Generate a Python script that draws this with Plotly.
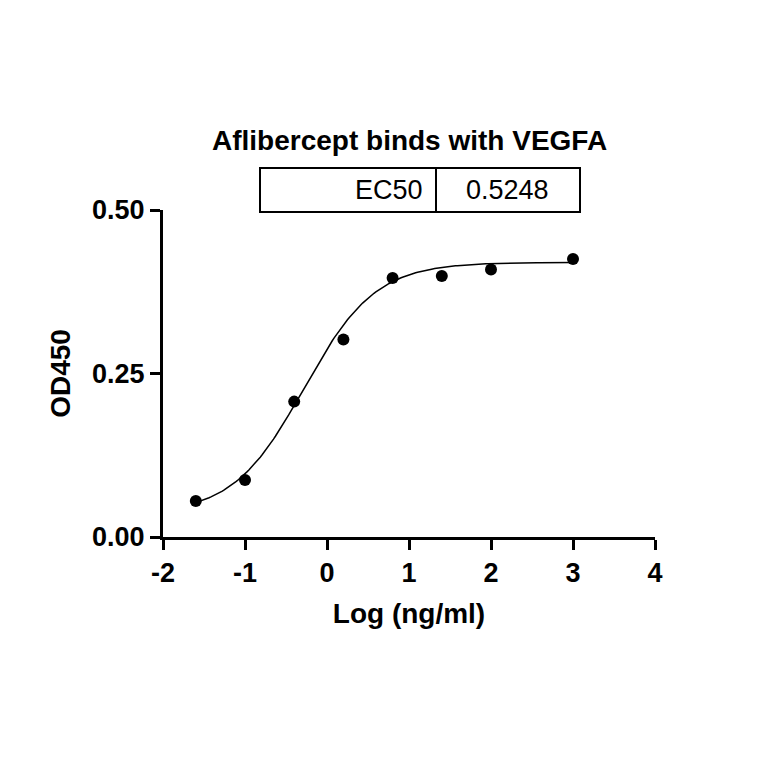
import numpy as np
import plotly.graph_objects as go

log_conc = [-1.6, -1.0, -0.4, 0.2, 0.8, 1.4, 2.0, 3.0]
od450 = [0.055, 0.087, 0.207, 0.302, 0.396, 0.399, 0.409, 0.425]
x_ticks = [-2, -1, 0, 1, 2, 3, 4]
x_ticklabels = ["-2", "-1", "0", "1", "2", "3", "4"]
y_ticks = [0, 0.25, 0.5]
y_ticklabels = ["0.00", "0.25", "0.50"]
# 4PL fit parameters
bottom, top, logec50, hill = 0.035, 0.42, np.log10(0.5248), 1.0
xs = np.linspace(-1.6, 3.0, 200)
ys = bottom + (top - bottom) / (1 + 10 ** ((logec50 - xs) * hill))

fig = go.Figure()
fig.add_trace(go.Scatter(x=xs, y=ys, mode="lines", line=dict(color="black", width=1.5), cliponaxis=False))
fig.add_trace(go.Scatter(x=log_conc, y=od450, mode="markers", marker=dict(color="black", size=12), cliponaxis=False))

W, H = 492, 327
def px(x): return (x - 163) / W
def py(y): return (537 - y) / H
fig.add_shape(type="rect", xref="paper", yref="paper", x0=px(260), x1=px(580), y0=py(212), y1=py(168), line=dict(color="black", width=2))
fig.add_shape(type="line", xref="paper", yref="paper", x0=px(436), x1=px(436), y0=py(212), y1=py(168), line=dict(color="black", width=2))
fig.add_annotation(xref="paper", yref="paper", x=px(425), y=py(190), text="EC50", showarrow=False, xanchor="right", yanchor="middle", font=dict(size=27, color="black", family="Liberation Sans"))
fig.add_annotation(xref="paper", yref="paper", x=px(507), y=py(190), text="0.5248", showarrow=False, xanchor="center", yanchor="middle", font=dict(size=27, color="black", family="Liberation Sans"))
fig.add_annotation(xref="paper", yref="paper", x=px(409), y=py(140), text="<b>Aflibercept binds with VEGFA</b>", showarrow=False, yanchor="middle", font=dict(size=28, color="black", family="Liberation Sans"))

fig.update_layout(
    width=764, height=764, showlegend=False, plot_bgcolor="white", paper_bgcolor="white",
    margin=dict(l=155, r=117, t=202, b=235),
    font=dict(family="Liberation Sans", color="black"),
    xaxis=dict(range=[-2, 4], tickvals=x_ticks, ticktext=["<b>%s</b>" % t for t in x_ticklabels],
               showline=True, linecolor="black", linewidth=3,
               ticks="outside", ticklen=10, tickwidth=3, tickcolor="black", showgrid=False, zeroline=False,
               tickfont=dict(size=27, family="Liberation Sans"),
               title=dict(text="<b>Log (ng/ml)</b>", font=dict(size=28), standoff=16)),
    yaxis=dict(range=[0, 0.5], tickvals=y_ticks, ticktext=["<b>%s</b>" % t for t in y_ticklabels],
               showline=True, linecolor="black", linewidth=3, ticks="outside", ticklen=10, tickwidth=3, tickcolor="black",
               showgrid=False, zeroline=False, tickfont=dict(size=27, family="Liberation Sans"),
               title=dict(text="<b>OD450</b>", font=dict(size=28), standoff=14)),
)
fig.write_html("out.html")
